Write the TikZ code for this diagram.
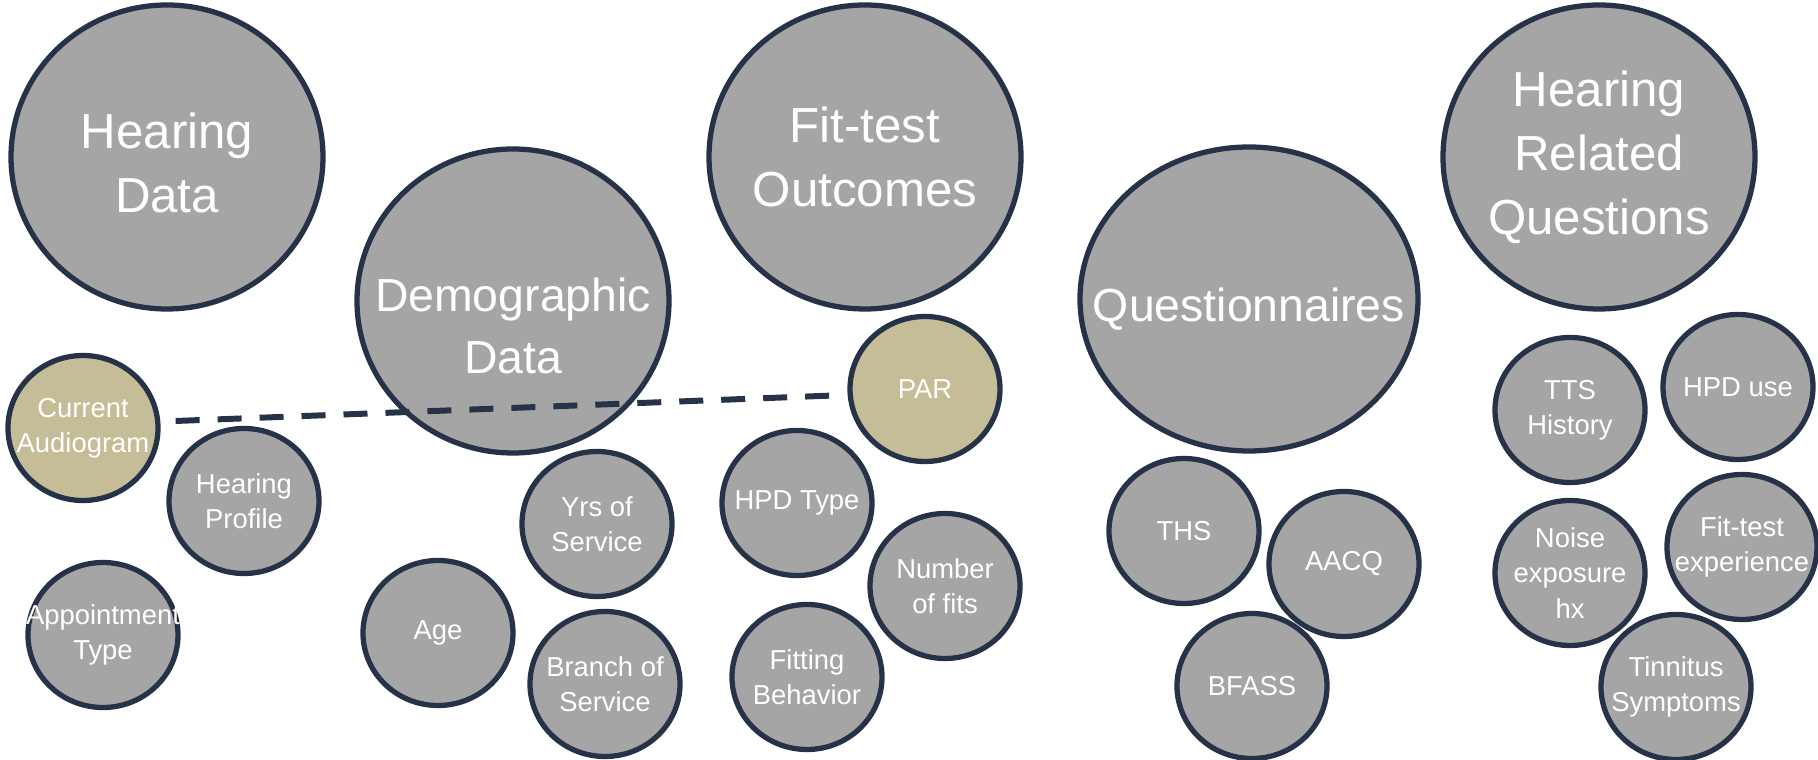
\documentclass[tikz,border=0pt]{standalone}
\usepackage{fontspec}
\setmainfont{Liberation Sans}
\usetikzlibrary{shapes.geometric}
\definecolor{bubblegray}{RGB}{165,165,165}
\definecolor{navyline}{RGB}{38,50,71}
\definecolor{khaki}{RGB}{196,189,151}

\begin{document}
\begin{tikzpicture} [%
    bubble/.style = {%
      ellipse,
      draw = navyline,
      line width = 1.5pt,
      fill = bubblegray,
      minimum width = 1.5cm,
      minimum height = 1.45cm,
      inner sep = 0pt },
    bigbubble/.style = {%
      bubble,
      minimum width = 3.12cm,
      minimum height = 3.04cm },
    picked/.style = { fill = khaki },
    smalltxt/.style = {%
      text = white,
      align = center,
      font = \fontsize{7.8}{10}\selectfont },
    bigtxt/.style = {%
      text = white,
      align = center,
      font = \fontsize{14}{18.2}\selectfont },
    sub/.style = { bubble, label = {[smalltxt]center:#1} },
    topic/.style = { bigbubble, label = {[bigtxt]center:#1} },
    link/.style = {%
      draw = navyline,
      line width = 1.7pt,
      dash pattern = on 0.24cm off 0.18cm }
  ]
  \useasboundingbox (0,0) rectangle (18.18,-7.60);

  % main topics
  \node[bigbubble, label={[bigtxt, yshift=-0.06cm]center:Hearing\\Data}] (hear) at (1.67,-1.57) {};
  \node[bigbubble, label={[bigtxt, yshift=-0.25cm, font=\fontsize{13.2}{17.5}\selectfont]center:Demographic\\Data}] (demo) at (5.13,-3.01) {};
  \node[topic={Fit-test\\Outcomes}] (fit) at (8.65,-1.57) {};
  \node[bigbubble, minimum width=3.38cm, label={[bigtxt, yshift=-0.1cm, font=\fontsize{13.2}{17.5}\selectfont]center:Questionnaires}] (quest) at (12.49,-2.99) {};
  \node[topic={Hearing\\Related\\Questions}] (hrq) at (15.99,-1.57) {};

  % hearing data
  \node[sub={Current\\Audiogram}, picked] (audio) at (0.83,-4.28) {};
  \node[sub={Hearing\\Profile}] (profile) at (2.44,-5.01) {};
  \node[sub={Appointment\\Type}] (appt) at (1.03,-6.35) {};

  % demographic data
  \node[sub={Age}] (age) at (4.38,-6.33) {};
  \node[sub={Yrs of\\Service}] (years) at (5.97,-5.24) {};
  \node[sub={Branch of\\Service}] (branch) at (6.05,-6.84) {};

  % fit-test outcomes
  \node[sub={PAR}, picked] (par) at (9.25,-3.89) {};
  \node[sub={HPD Type}] (hpdtype) at (7.97,-5.03) {};
  \node[sub={Number\\of fits}] (nfits) at (9.45,-5.86) {};
  \node[sub={Fitting\\Behavior}] (behav) at (8.07,-6.77) {};

  % questionnaires
  \node[sub={THS}] (ths) at (11.84,-5.31) {};
  \node[sub={AACQ}] (aacq) at (13.44,-5.64) {};
  \node[sub={BFASS}] (bfass) at (12.52,-6.86) {};

  % hearing related questions
  \node[sub={TTS\\History}] (tts) at (15.70,-4.10) {};
  \node[sub={HPD use}] (hpduse) at (17.38,-3.87) {};
  \node[sub={Noise\\exposure\\hx}] (noise) at (15.70,-5.73) {};
  \node[sub={Fit-test\\experience}] (ftexp) at (17.42,-5.47) {};
  \node[sub={Tinnitus\\Symptoms}] (tinn) at (16.76,-6.87) {};

  \path[link] ([xshift=0.15cm, yshift=0.07cm]audio.east) -- ([xshift=-0.01cm, yshift=-0.06cm]par.west);
\end{tikzpicture}
\end{document}
